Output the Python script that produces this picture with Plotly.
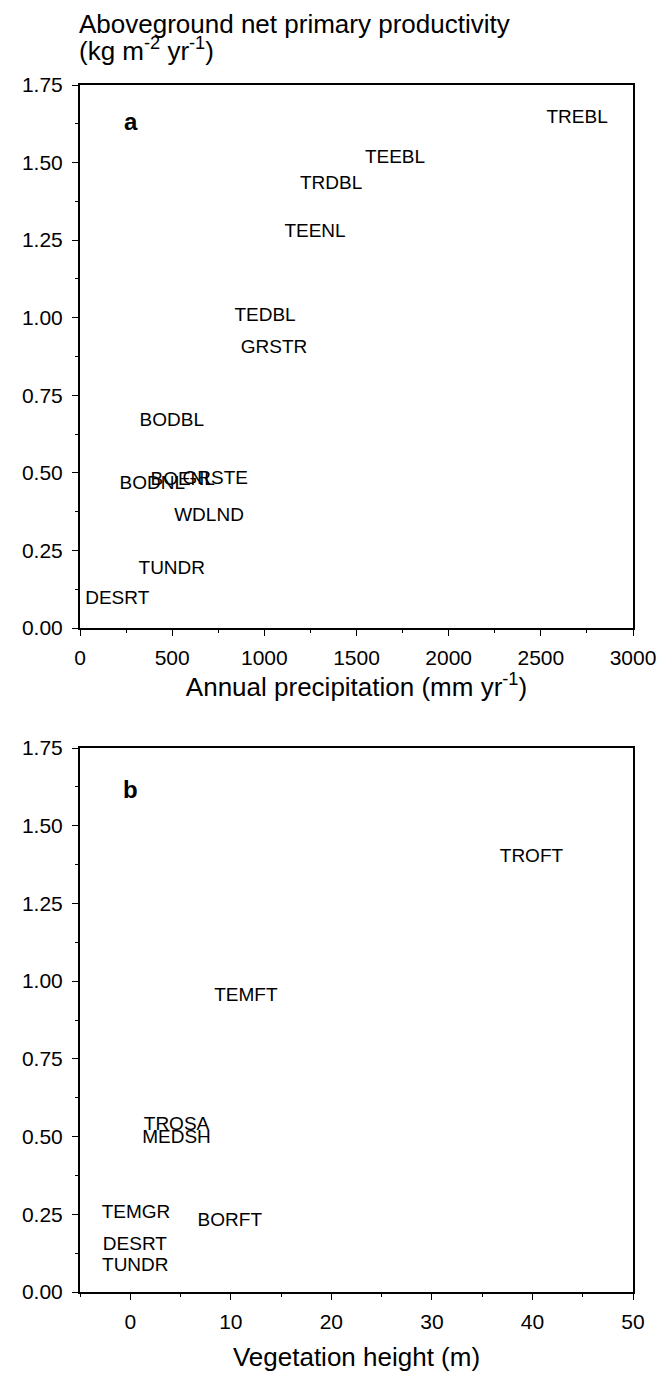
import plotly.graph_objects as go

# Panel a: annual precipitation vs ANPP
a_labels = ["TREBL", "TEEBL", "TRDBL", "TEENL", "TEDBL", "GRSTR", "BODBL",
            "BOENL", "GRSTE", "BODNL", "WDLND", "TUNDR", "DESRT"]
a_precip = [2697, 1709, 1362, 1275, 1004, 1053, 498, 557, 734, 392, 700, 498, 202]
a_anpp = [1.642, 1.513, 1.429, 1.277, 1.006, 0.903, 0.665, 0.477, 0.481, 0.464, 0.361, 0.189, 0.094]

# Panel b: vegetation height vs ANPP
b_labels = ["TROFT", "TEMFT", "TROSA", "MEDSH", "TEMGR", "BORFT", "DESRT", "TUNDR"]
b_height = [39.9, 11.5, 4.6, 4.6, 0.57, 9.9, 0.46, 0.5]
b_anpp = [1.40, 0.95, 0.535, 0.495, 0.252, 0.229, 0.149, 0.082]

y_ticks = [0, 0.25, 0.5, 0.75, 1.0, 1.25, 1.5, 1.75]

FONT = "Liberation Sans, Arial, sans-serif"
W, H = 667, 1374
ML, MR, MT, MB = 72, 42, 77, 90
ph = H - MT - MB
dom_a = [(1284 - 620) / ph, 1.0]
dom_b = [0.0, (1284 - 740) / ph]

fig = go.Figure()
fig.add_trace(go.Scatter(x=a_precip, y=a_anpp, text=a_labels, mode="text",
                         textposition="middle center",
                         textfont=dict(family=FONT, size=19, color="black"),
                         xaxis="x", yaxis="y", showlegend=False, hoverinfo="skip"))
fig.add_trace(go.Scatter(x=b_height, y=b_anpp, text=b_labels, mode="text",
                         textposition="middle center",
                         textfont=dict(family=FONT, size=19, color="black"),
                         xaxis="x2", yaxis="y2", showlegend=False, hoverinfo="skip"))

axis_common = dict(showgrid=False, zeroline=False, showline=True, linecolor="black",
                   linewidth=2, mirror=True, ticks="outside", ticklen=6, tickwidth=1,
                   tickcolor="black", tickfont=dict(family=FONT, size=21, color="black"))

fig.update_layout(
    width=W, height=H,
    margin=dict(l=ML, r=MR, t=MT, b=MB),
    plot_bgcolor="white", paper_bgcolor="white",
    xaxis=dict(domain=[0, 1], anchor="y", range=[0, 3000], tickvals=[0, 500, 1000, 1500, 2000, 2500, 3000],
               minor=dict(dtick=250, ticklen=3, ticks="outside", tickcolor="black"),
               ticklabelstandoff=4,
               title=dict(text="Annual precipitation (mm yr<sup>-1</sup>)",
                          font=dict(family=FONT, size=26, color="black"), standoff=10),
               **axis_common),
    yaxis=dict(domain=dom_a, anchor="x", range=[0, 1.75], tickvals=y_ticks, tickformat=".2f",
               minor=dict(dtick=0.125, ticklen=3, ticks="outside", tickcolor="black"),
               ticklabelstandoff=5, **axis_common),
    xaxis2=dict(domain=[0, 1], anchor="y2", range=[-5, 50], tickvals=[0, 10, 20, 30, 40, 50],
                minor=dict(tick0=-5, dtick=5, ticklen=3, ticks="outside", tickcolor="black"),
                ticklabelstandoff=4,
                title=dict(text="Vegetation height (m)",
                           font=dict(family=FONT, size=26, color="black"), standoff=16),
                **axis_common),
    yaxis2=dict(domain=dom_b, anchor="x2", range=[0, 1.75], tickvals=y_ticks, tickformat=".2f",
                minor=dict(dtick=0.125, ticklen=3, ticks="outside", tickcolor="black"),
                ticklabelstandoff=5, **axis_common),
    annotations=[
        dict(text="Aboveground net primary productivity",
             xref="paper", yref="paper", x=0, y=1.0, xshift=-3, yshift=61,
             xanchor="left", yanchor="middle", align="left", showarrow=False,
             font=dict(family=FONT, size=26, color="black")),
        dict(text="(kg m<sup>-2</sup> yr<sup>-1</sup>)",
             xref="paper", yref="paper", x=0, y=1.0, xshift=-3, yshift=36,
             xanchor="left", yanchor="middle", align="left", showarrow=False,
             font=dict(family=FONT, size=26, color="black")),
        dict(text="<b>a</b>", xref="x domain", yref="y domain", x=0.092, y=0.932,
             xanchor="center", yanchor="middle", showarrow=False,
             font=dict(family=FONT, size=24, color="black")),
        dict(text="<b>b</b>", xref="x2 domain", yref="y2 domain", x=0.092, y=0.923,
             xanchor="center", yanchor="middle", showarrow=False,
             font=dict(family=FONT, size=24, color="black")),
    ],
)

fig.write_html("out.html")
